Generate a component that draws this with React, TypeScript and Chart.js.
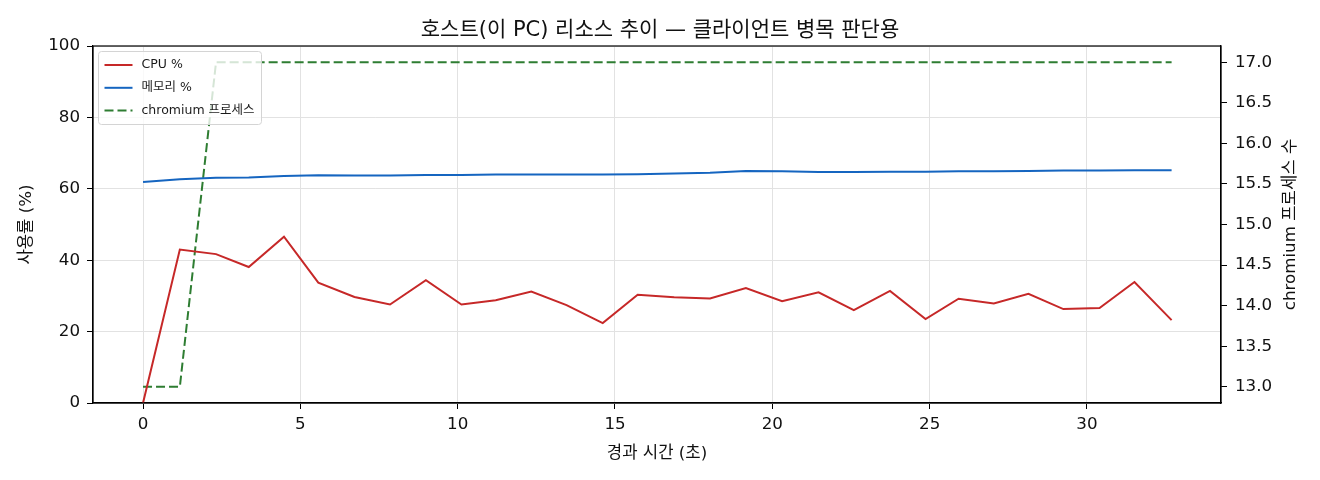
import React, { useRef, useEffect } from "react";
import { Chart, registerables } from "chart.js";

Chart.register(...registerables);

const FONT = '"DejaVu Sans", "Noto Sans CJK KR", sans-serif';

// elapsed seconds for each sample
const elapsed = [
  0, 1.17, 2.32, 3.36, 4.48, 5.57, 6.72, 7.85, 8.99, 10.12, 11.21, 12.34, 13.46, 14.61, 15.72,
  16.88, 18.02, 19.16, 20.31, 21.47, 22.59, 23.74, 24.87, 25.92, 27.04, 28.14, 29.25, 30.4,
  31.51, 32.69,
];
const cpuPct = [
  0, 43.0, 41.7, 38.1, 46.6, 33.7, 29.7, 27.6, 34.4, 27.6, 28.8, 31.2, 27.4, 22.4, 30.3, 29.6,
  29.3, 32.2, 28.5, 31.0, 26.0, 31.4, 23.5, 29.2, 27.9, 30.6, 26.3, 26.6, 33.9, 23.2,
];
const memPct = [
  61.9, 62.7, 63.1, 63.2, 63.6, 63.8, 63.7, 63.7, 63.9, 63.9, 64.0, 64.0, 64.0, 64.0, 64.1, 64.3,
  64.5, 65.0, 64.9, 64.7, 64.7, 64.8, 64.8, 64.9, 64.9, 65.0, 65.1, 65.1, 65.2, 65.2,
];
const chromiumProcs = [
  13, 13, 17, 17, 17, 17, 17, 17, 17, 17, 17, 17, 17, 17, 17, 17, 17, 17, 17, 17, 17, 17, 17, 17,
  17, 17, 17, 17, 17, 17,
];

const xTicks = [0, 5, 10, 15, 20, 25, 30];
const pctTicks = [0, 20, 40, 60, 80, 100];
const procTicks = [13, 13.5, 14, 14.5, 15, 15.5, 16, 16.5, 17];

const points = (ys: number[]) => ys.map((y, i) => ({ x: elapsed[i], y }));

// matplotlib-style frame round the plot area
const framePlugin = {
  id: "frame",
  afterDraw(chart: any) {
    const { ctx, chartArea: a } = chart;
    ctx.save();
    ctx.strokeStyle = "#000";
    ctx.lineWidth = 1.2;
    ctx.strokeRect(a.left, a.top, a.right - a.left, a.bottom - a.top);
    ctx.restore();
  },
};

// right axis title reads bottom to top, like the left one
const rightTitle = {
  id: "rightTitle",
  afterDraw(chart: any) {
    const { ctx, chartArea: a } = chart;
    ctx.save();
    ctx.translate(1291, (a.top + a.bottom) / 2);
    ctx.rotate(-Math.PI / 2);
    ctx.font = `16.7px ${FONT}`;
    ctx.fillStyle = "#111";
    ctx.textAlign = "center";
    ctx.textBaseline = "middle";
    ctx.fillText("chromium 프로세스 수", 0, 0);
    ctx.restore();
  },
};

// legend drawn inside the top-left corner of the plot
const insideLegend = {
  id: "insideLegend",
  afterDraw(chart: any) {
    const { ctx, chartArea } = chart;
    const x = chartArea.left + 5.5;
    const y = chartArea.top + 5.5;
    ctx.save();
    ctx.font = `12.5px ${FONT}`;
    const sets = chart.data.datasets;
    const textW = Math.max(...sets.map((d: any) => ctx.measureText(d.label).width));
    const w = 43 + textW + 7;
    const h = 73;
    ctx.beginPath();
    ctx.roundRect(x, y, w, h, 3);
    ctx.fillStyle = "rgba(255,255,255,0.8)";
    ctx.fill();
    ctx.strokeStyle = "#d4d4d4";
    ctx.lineWidth = 1;
    ctx.stroke();
    sets.forEach((ds: any, i: number) => {
      const cy = y + 13.5 + i * 22.8;
      ctx.beginPath();
      ctx.setLineDash(ds.borderDash || []);
      ctx.moveTo(x + 6, cy);
      ctx.lineTo(x + 34, cy);
      ctx.strokeStyle = ds.borderColor;
      ctx.lineWidth = 2;
      ctx.stroke();
      ctx.setLineDash([]);
      ctx.fillStyle = "#1a1a1a";
      ctx.textBaseline = "middle";
      ctx.fillText(ds.label, x + 43, cy);
    });
    ctx.restore();
  },
};

export default function App() {
  const canvas = useRef<HTMLCanvasElement>(null);

  useEffect(() => {
    const ctx = canvas.current!.getContext("2d");
    if (!ctx) return;

    const tickFont = { family: FONT, size: 16.7 };
    const labelFont = { family: FONT, size: 16.7 };

    const chart = new Chart(ctx, {
      type: "line",
      data: {
        datasets: [
          {
            label: "CPU %",
            data: points(cpuPct),
            borderColor: "#c62828",
            borderWidth: 2,
            pointRadius: 0,
            yAxisID: "y",
          },
          {
            label: "메모리 %",
            data: points(memPct),
            borderColor: "#1565c0",
            borderWidth: 2,
            pointRadius: 0,
            yAxisID: "y",
          },
          {
            label: "chromium 프로세스",
            data: points(chromiumProcs),
            borderColor: "#2e7d32",
            borderWidth: 2,
            borderDash: [9, 4],
            pointRadius: 0,
            yAxisID: "y1",
          },
        ],
      },
      options: {
        responsive: false,
        animation: false,
        layout: { padding: 0 },
        plugins: {
          legend: { display: false },
          tooltip: { enabled: false },
          title: {
            display: true,
            text: "호스트(이 PC) 리소스 추이 — 클라이언트 병목 판단용",
            color: "#111",
            font: { family: FONT, size: 21, weight: "normal" },
            padding: { top: 18, bottom: 2.8 },
          },
        },
        scales: {
          x: {
            type: "linear",
            min: -1.59,
            max: 34.26,
            afterBuildTicks: (s: any) => {
              s.ticks = xTicks.map((v) => ({ value: v }));
            },
            afterFit: (s: any) => {
              s.height = 77;
            },
            ticks: { font: tickFont, color: "#111", padding: 6, maxRotation: 0 },
            grid: { color: "#e2e2e2", tickColor: "#000", tickLength: 6 },
            border: { color: "#000", width: 1.2 },
            title: {
              display: true,
              text: "경과 시간 (초)",
              color: "#111",
              font: labelFont,
              padding: { bottom: 16 },
            },
          },
          y: {
            position: "left",
            min: 0,
            max: 100,
            afterBuildTicks: (s: any) => {
              s.ticks = pctTicks.map((v) => ({ value: v }));
            },
            afterFit: (s: any) => {
              s.width = 93;
            },
            ticks: { font: tickFont, color: "#111", padding: 7 },
            grid: { color: "#e2e2e2", tickColor: "#000", tickLength: 6 },
            border: { color: "#000", width: 1.2 },
            title: {
              display: true,
              text: "사용률 (%)",
              color: "#111",
              font: labelFont,
              padding: { top: 16.5 },
            },
          },
          y1: {
            position: "right",
            min: 12.8,
            max: 17.2,
            afterBuildTicks: (s: any) => {
              s.ticks = procTicks.map((v) => ({ value: v }));
            },
            afterFit: (s: any) => {
              s.width = 99;
            },
            ticks: {
              font: tickFont,
              color: "#111",
              padding: 8,
              callback: (v: any) => Number(v).toFixed(1),
            },
            grid: { drawOnChartArea: false, tickColor: "#000", tickLength: 6 },
            border: { color: "#000", width: 1.2 },
          },
        },
      },
      plugins: [framePlugin, insideLegend, rightTitle],
    });

    return () => {
      chart.destroy();
    };
  }, []);

  return (
    <div style={{ position: "absolute", left: 0, top: 0, width: 1320, height: 480, background: "#fff" }}>
      <canvas ref={canvas} width={1320} height={480}>
        Your browser doesn't support canvas.
      </canvas>
    </div>
  );
}
